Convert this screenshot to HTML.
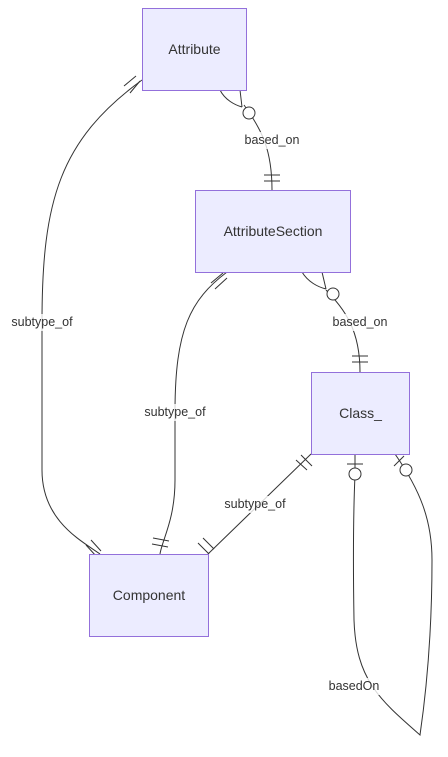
<!DOCTYPE html>
<html><head><style>
html,body{margin:0;padding:0;background:#fff;}
svg{display:block;font-family:"Trebuchet MS","Liberation Sans",sans-serif;}
.box{fill:#ECECFF;stroke:#9370DB;stroke-width:1;}
.e{fill:none;stroke:#333;stroke-width:1;}
.t{font-size:14px;fill:#333;text-anchor:middle;dominant-baseline:central;}
.l{font-size:12.5px;fill:#333;text-anchor:middle;dominant-baseline:central;}
.lb{fill:#fff;opacity:.8}
</style></head><body>
<svg width="448" height="757" viewBox="0 0 448 757">
<!-- edges -->
<path class="e" d="M142,80 C60,140 42,200 42,322 L42,470 C42,520 80,540 100,554"/>
<path class="e" d="M227,272 C190,300 175,330 175,412 L175,480 C175,520 162,540 160,554"/>
<path class="e" d="M311,454 L208,554"/>
<path class="e" d="M244,105 C262,130 272,150 272,190"/>
<path class="e" d="M326,290 C345,310 360,330 360,372"/>
<path class="e" d="M355,454 L355,475 C353,520 353,560 354,620 C356,680 380,700 420,735 C428,680 432,620 432,560 C432,520 420,490 395,454"/>
<!-- crow feet many -->
<path class="e" d="M220,90 C225,100 235,105 242,107 M240,90 L242,107"/>
<circle cx="249" cy="113" r="6" fill="#fff" stroke="#333"/>
<path class="e" d="M302,272 C308,282 318,287 326,289 M322,272 L326,289"/>
<circle cx="333" cy="294" r="6" fill="#fff" stroke="#333"/>
<!-- bars -->
<path class="e" d="M264,175 L280,175 M264,181 L280,181"/>
<path class="e" d="M352,356 L368,356 M352,362 L368,362"/>
<path class="e" d="M124,86 L136,76 M130,93 L140,81"/>
<path class="e" d="M86,545 L96,556 M91,540 L101,551"/>
<path class="e" d="M211,283 L223,273 M215,289 L227,278"/>
<path class="e" d="M153,538 L169,541 M152,544 L168,547"/>
<path class="e" d="M296,460 L307,470 M301,455 L312,466"/>
<path class="e" d="M198,543 L209,554 M203,538 L214,549"/>
<path class="e" d="M347,464 L363,464"/>
<circle cx="355" cy="474" r="6" fill="#fff" stroke="#333"/>
<path class="e" d="M394,466 L404,456"/>
<circle cx="406" cy="470" r="6" fill="#fff" stroke="#333"/>
<!-- labels -->
<rect class="lb" x="242" y="132" width="60" height="17"/><text class="l" x="272" y="140">based_on</text>
<rect class="lb" x="330" y="314" width="60" height="17"/><text class="l" x="360" y="322">based_on</text>
<rect class="lb" x="6" y="314" width="72" height="17"/><text class="l" x="42" y="322">subtype_of</text>
<rect class="lb" x="139" y="404" width="72" height="17"/><text class="l" x="175" y="412">subtype_of</text>
<rect class="lb" x="219" y="496" width="72" height="17"/><text class="l" x="255" y="504">subtype_of</text>
<rect class="lb" x="326" y="678" width="56" height="17"/><text class="l" x="354" y="686">basedOn</text>
<!-- boxes -->
<rect class="box" x="142.5" y="8.5" width="104" height="82"/><text class="t" x="194.5" y="49">Attribute</text>
<rect class="box" x="195.5" y="190.5" width="155" height="82"/><text class="t" x="273" y="231">AttributeSection</text>
<rect class="box" x="311.5" y="372.5" width="98" height="82"/><text class="t" x="360.5" y="413">Class_</text>
<rect class="box" x="89.5" y="554.5" width="119" height="82"/><text class="t" x="149" y="595">Component</text>
</svg>
</body></html>
